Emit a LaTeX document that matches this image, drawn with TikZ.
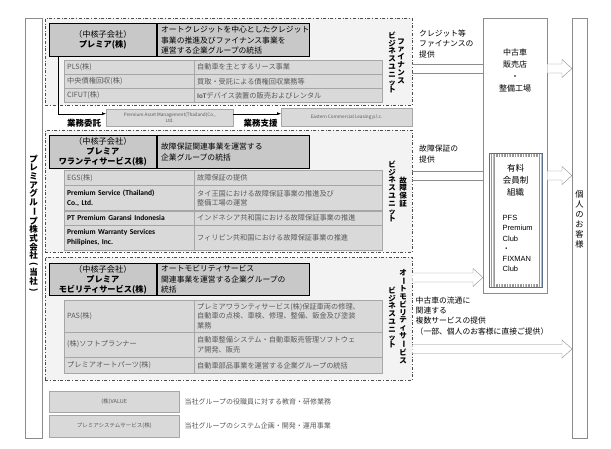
\documentclass[tikz,border=0pt]{standalone}
\usepackage{fontspec}
\setmainfont{Noto Sans CJK JP}
\newfontfamily\jpf{Noto Sans CJK JP}
\newfontfamily\calib{Carlito}
\newfontfamily\arialf{Liberation Sans}
\usepackage{graphicx}
\usetikzlibrary{positioning,calc,patterns.meta,arrows.meta}
\definecolor{unitfill}{HTML}{F3F3F3}
\definecolor{headfill}{HTML}{C8C8C8}
\definecolor{cellfill}{HTML}{D9D9D9}
\definecolor{cellline}{HTML}{A6A6A6}
\definecolor{celltext}{HTML}{595959}
\definecolor{boxline}{HTML}{8C8C8C}
\definecolor{clubline}{HTML}{5B6E8C}
\newcommand\fs[2]{\fontsize{#1}{#2}\selectfont}
\newcommand\tate{\rotatebox[origin=c]{-90}{ー}}
\newcommand\tateL{\rotatebox[origin=c]{-90}{(}}
\newcommand\tateR{\rotatebox[origin=c]{-90}{)}}
% wide hollow arrow between two nodes at the height of a coordinate
\newcommand\fatarrow[3]{%
  \path (#1 |- #3) coordinate (fa) (#2 |- #3) coordinate (fb);
  \draw[fat] ($(fa)+(0,-4.5)$) -- ($(fb)+(-10,-4.5)$) -- ($(fb)+(-10,-9)$) -- (fb)
    -- ($(fb)+(-10,9)$) -- ($(fb)+(-10,4.5)$) -- ($(fa)+(0,4.5)$);}
\newcommand\fatband[3]{%
  \path (#1 |- #3) coordinate (fa) (#2 |- #3) coordinate (fb);
  \draw[draw=boxline] ($(fa)+(0,-4.5)$) -- ($(fb)+(0,-4.5)$)
    ($(fa)+(0,4.5)$) -- ($(fb)+(0,4.5)$);}

\begin{document}
\begin{tikzpicture}[x=1pt,y=-1pt,
  every node/.style={inner sep=0pt},
  bigbox/.style={draw=boxline,fill=white,anchor=north west},
  unit/.style={draw=black!70,dash dot,fill=unitfill,anchor=north west,minimum width=367pt},
  headL/.style={draw,line width=1.1pt,fill=headfill,anchor=north west,minimum width=106.5pt,align=center,font=\fs{8.2}{10}},
  headR/.style={draw,line width=1.1pt,fill=headfill,anchor=north west,text width=144pt,inner xsep=4pt,align=left,font=\fs{7.8}{10.5}},
  cellL/.style={draw=cellline,fill=cellfill,anchor=north west,text width=123.5pt,inner xsep=3pt,align=left,text=celltext,font=\fs{7.2}{9.5}},
  cellR/.style={draw=cellline,fill=cellfill,text width=182.5pt,inner xsep=3pt,align=left,text=celltext,font=\fs{7.2}{9.5}},
  cellE/.style={font=\calib\bfseries\fs{7.5}{10},text=black},
  small/.style={draw=cellline,fill=cellfill,anchor=north west,align=center,text=celltext,font=\fs{4.6}{6}},
  unitlbl/.style={align=center,font=\bfseries\fs{7.5}{7.8}},
  lbl/.style={align=left,anchor=west,font=\fs{7.8}{10.8}},
  fat/.style={draw=boxline,fill=white},
  ctrl/.style={-{Latex[length=4pt,width=3pt]}},
  desc/.style={anchor=west,text=celltext,font=\fs{7}{9}}]
\useasboundingbox (0,0) rectangle (611,448);

% outer boxes
\node[bigbox,minimum width=17pt,minimum height=420pt] (grp) at (25,18) {};
\node[align=center,font=\bfseries\fs{8.5}{8.6}] (grpT) at (33.5,224) {プ\\レ\\ミ\\ア\\グ\\ル\\\tate\\プ\\株\\式\\会\\社\\\tateL\\当\\社\\\tateR};
\node[bigbox,minimum width=15pt,minimum height=420pt] (cust) at (572,18) {};
\node[align=center,font=\fs{8.3}{10}] (custT) at (579.5,219) {個\\人\\の\\お\\客\\様};
\node[bigbox,minimum width=64pt,minimum height=275pt] (dealer) at (483,18) {};
\node[align=center,font=\fs{8}{11.7}] (dealerT) at (515,70.5) {中古車\\販売店\\・\\整備工場};
\node[draw=clubline,anchor=north west,minimum width=53pt,minimum height=134pt,
  pattern={Lines[angle=90,distance=1.6pt,line width=0.6pt]},pattern color=gray!80] (club) at (489,153) {};
\fill[white] ([xshift=6pt,yshift=-3.5pt]club.north west) rectangle ([xshift=-5pt,yshift=3.5pt]club.south east);
\node[align=center,font=\fs{8.5}{11.8}] (clubT) at (515.5,180) {有料\\会員制\\組織};
\node[align=left,anchor=north west,font=\arialf\fs{7.5}{10.3}] (clubN) at (502.5,215) {PFS\\Premium\\Club\\{\jpf ・}\\FIXMAN\\Club};

% finance unit
\node[unit,minimum height=87pt] (finU) at (45,18) {};
\node[headL,minimum height=33pt] (finHL) at (49,23) {（中核子会社）\\\textbf{プレミア(株)}};
\node[headR,minimum height=33pt] (finHR) at (finHL.north east) {オートクレジットを中心としたクレジット\\事業の推進及びファイナンス事業を\\運営する企業グループの統括};
\node[cellL,minimum height=14pt] (plsL) at (64,60) {PLS(株)};
\node[cellR,minimum height=14pt,right=0pt of plsL] (plsR) {自動車を主とするリース事業};
\node[cellL,minimum height=13.5pt,below=0pt of plsL] (ccrL) {中央債権回収(株)};
\node[cellR,minimum height=13.5pt,right=0pt of ccrL] (ccrR) {買取・受託による債権回収業務等};
\node[cellL,minimum height=14pt,below=0pt of ccrL] (cifL) {CIFUT(株)};
\node[cellR,minimum height=14pt,right=0pt of cifL] (cifR) {{\calib\bfseries IoT}デバイス装置の販売およびレンタル};
\node[unitlbl] (finV1) at (401,61) {フ\\ァ\\イ\\ナ\\ン\\ス};
\node[unitlbl] (finV2) at (392,62.5) {ビ\\ジ\\ネ\\ス\\ユ\\ニ\\ッ\\ト};

% affiliates
\node[small,minimum width=127pt,minimum height=17pt] (pam) at (106,109) {Premium Asset Management(Thailand)Co.,\\Ltd.};
\node[small,minimum width=131pt,minimum height=18pt] (ecl) at (281,108) {Eastern Commercial Leasing p.l.c.};
\draw[ctrl] ([xshift=9pt]finHL.south west) |- ([yshift=4pt]pam.west);
\draw[ctrl] ([yshift=4pt]pam.east) -- ([yshift=4pt]pam.east -| ecl.west);
\node[font=\bfseries\fs{8.5}{10}] (itaku) at (84,123) {業務委託};
\node[font=\bfseries\fs{8.5}{10}] (shien) at (260.5,123) {業務支援};

% warranty unit
\node[unit,minimum height=121.7pt] (warU) at (45,130) {};
\node[headL,minimum height=33pt] (warHL) at (49,135) {（中核子会社）\\\textbf{プレミア}\\\textbf{ワランティサービス(株)}};
\node[headR,minimum height=33pt] (warHR) at (warHL.north east) {故障保証関連事業を運営する\\企業グループの統括};
\node[cellL,minimum height=15pt] (egsL) at (64,170) {EGS(株)};
\node[cellR,minimum height=15pt,right=0pt of egsL] (egsR) {故障保証の提供};
\node[cellL,cellE,minimum height=25pt,below=0pt of egsL] (pstL) {Premium Service (Thailand)\\Co., Ltd.};
\node[cellR,minimum height=25pt,right=0pt of pstL] (pstR) {タイ王国における故障保証事業の推進及び\\整備工場の運営};
\node[cellL,cellE,minimum height=14pt,below=0pt of pstL] (pgiL) {PT Premium Garansi Indonesia};
\node[cellR,minimum height=14pt,right=0pt of pgiL] (pgiR) {インドネシア共和国における故障保証事業の推進};
\node[cellL,cellE,minimum height=24.5pt,below=0pt of pgiL] (pwsL) {Premium Warranty Services\\Philipines, Inc.};
\node[cellR,minimum height=24.5pt,right=0pt of pwsL] (pwsR) {フィリピン共和国における故障保証事業の推進};
\node[unitlbl] (warV1) at (403,192) {故\\障\\保\\証};
\node[unitlbl] (warV2) at (392,191.5) {ビ\\ジ\\ネ\\ス\\ユ\\ニ\\ッ\\ト};

% mobility unit
\node[unit,minimum height=123pt] (mobU) at (45,256.7) {};
\node[headL,minimum height=32.5pt] (mobHL) at (49,262.7) {（中核子会社）\\\textbf{プレミア}\\\textbf{モビリティサービス(株)}};
\node[headR,minimum height=32.5pt] (mobHR) at (mobHL.north east) {オートモビリティサービス\\関連事業を運営する企業グループの\\統括};
\node[cellL,minimum height=31.5pt] (pasL) at (64,300) {PAS(株)};
\node[cellR,minimum height=31.5pt,right=0pt of pasL] (pasR) {プレミアワランティサービス(株)保証車両の修理、\\自動車の点検、車検、修理、整備、鈑金及び塗装\\業務};
\node[cellL,minimum height=25pt,below=0pt of pasL] (sofL) {(株)ソフトプランナー};
\node[cellR,minimum height=25pt,right=0pt of sofL] (sofR) {自動車整備システム・自動車販売管理ソフトウェ\\ア開発、販売};
\node[cellL,minimum height=16pt,below=0pt of sofL] (papL) {プレミアオートパーツ(株)};
\node[cellR,minimum height=16pt,right=0pt of papL] (papR) {自動車部品事業を運営する企業グループの統括};
\node[unitlbl] (mobV1) at (403,316.5) {オ\\\tate\\ト\\モ\\ビ\\リ\\テ\\ィ\\サ\\\tate\\ビ\\ス};
\node[unitlbl] (mobV2) at (392,317.5) {ビ\\ジ\\ネ\\ス\\ユ\\ニ\\ッ\\ト};

% other companies
\node[small,minimum width=130pt,minimum height=21pt,font=\fs{5.5}{6}] (value) at (49,391) {(株)VALUE};
\node[small,minimum width=130pt,minimum height=21.5pt,font=\fs{5.5}{6}] (psys) at (49,415) {プレミアシステムサービス(株)};
\node[desc,right=5pt of value] (valueD) {当社グループの役職員に対する教育・研修業務};
\node[desc,right=5pt of psys] (psysD) {当社グループのシステム企画・開発・運用事業};

% flows
\coordinate (yFin) at (0,68.5);
\coordinate (yWar) at (0,175.5);
\coordinate (yMob) at (0,277.5);
\coordinate (yDir) at (0,349);
\fatband{finU.east}{dealer.west}{yFin}
\fatarrow{dealer.east}{cust.west}{yFin}
\fatband{warU.east}{dealer.west}{yWar}
\fatarrow{dealer.east}{cust.west}{yWar}
\fatarrow{mobU.east}{dealer.west}{yMob}
\fatarrow{mobU.east}{cust.west}{yDir}
\node[lbl] (finF) at (419,44) {クレジット等\\ファイナンスの\\提供};
\node[lbl] (warF) at (419,154) {故障保証の\\提供};
\node[lbl,font=\fs{7.8}{10.4}] (mobF) at (415.5,315.7) {中古車の流通に\\関連する\\複数サービスの提供\\（一部、個人のお客様に直接ご提供）};
\end{tikzpicture}
\end{document}
